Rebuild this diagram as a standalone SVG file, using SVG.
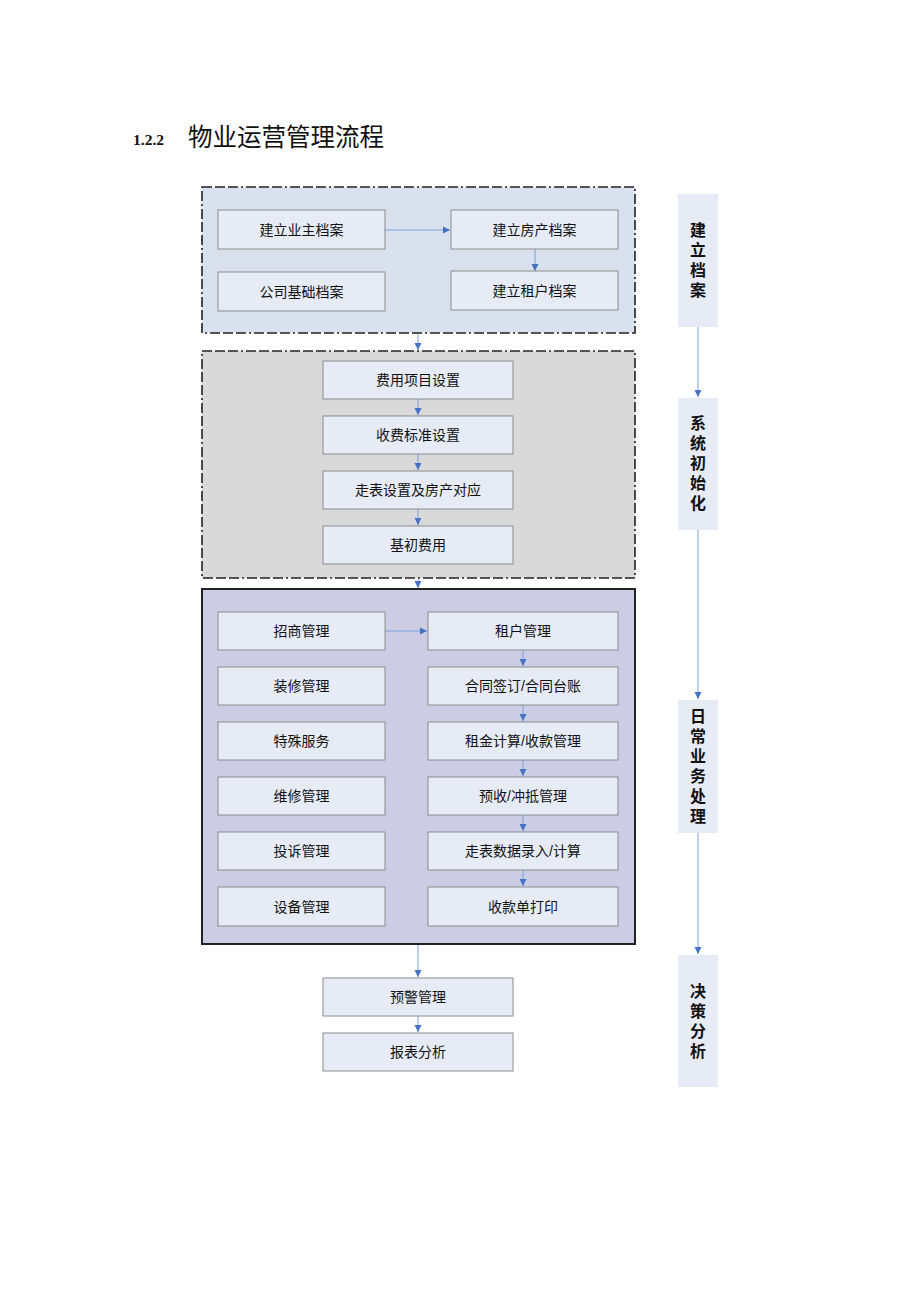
<svg xmlns="http://www.w3.org/2000/svg" width="920" height="1302" viewBox="0 0 920 1302">
<style>
.n{fill:#e6ebf6;stroke:#8c8c8c;stroke-width:1}
.t{font-family:"Liberation Sans","Noto Sans CJK SC",sans-serif;font-size:14px;fill:#111;text-anchor:middle}
.side{fill:#e6ebf6}
.st{font-family:"Noto Sans CJK SC",sans-serif;font-size:16px;font-weight:bold;fill:#111;text-anchor:middle;writing-mode:vertical-rl;letter-spacing:4px}
.c{stroke:#7f9fd6;stroke-width:1;fill:none;marker-end:url(#a)}
.grp{stroke:#222;stroke-width:1.6;stroke-dasharray:10 3 10 3 10 3 2 3}
</style>
<defs>
<marker id="a" markerWidth="8" markerHeight="8" refX="7" refY="4" orient="auto" markerUnits="userSpaceOnUse">
<path d="M0,0.5 L7,4 L0,7.5 z" fill="#4472c4"/>
</marker>
</defs>
<rect width="920" height="1302" fill="#fff"/>
<g id="title">
<text x="133" y="145" font-family="Liberation Serif,serif" font-weight="bold" font-size="15.5" fill="#111">1.2.2</text>
<text x="188" y="146" font-family="Noto Sans CJK SC,sans-serif" font-size="24.5" fill="#111">物业运营管理流程</text>
</g>
<g id="group1"><rect x="202" y="187" width="433" height="146" fill="#d9e1ee" class="grp"/></g>
<g id="group2"><rect x="202" y="351" width="433" height="227" fill="#d9d9d9" class="grp"/></g>
<g id="group3"><rect x="202" y="589" width="433" height="355" fill="#ccccE4" stroke="#222" stroke-width="2"/></g>
<g id="connectors">
<line class="c" x1="385" y1="230" x2="450" y2="230"/>
<line class="c" x1="535" y1="249" x2="535" y2="271"/>
<line class="c" x1="418" y1="334" x2="418" y2="350"/>
<line class="c" x1="418" y1="399" x2="418" y2="415"/>
<line class="c" x1="418" y1="454" x2="418" y2="470"/>
<line class="c" x1="418" y1="509" x2="418" y2="525"/>
<line class="c" x1="418" y1="579" x2="418" y2="588"/>
<line class="c" x1="385" y1="631" x2="427" y2="631"/>
<line class="c" x1="523" y1="650" x2="523" y2="666"/>
<line class="c" x1="523" y1="705" x2="523" y2="721"/>
<line class="c" x1="523" y1="760" x2="523" y2="776"/>
<line class="c" x1="523" y1="815" x2="523" y2="831"/>
<line class="c" x1="523" y1="870" x2="523" y2="886"/>
<line class="c" x1="418" y1="945" x2="418" y2="977"/>
<line class="c" x1="418" y1="1016" x2="418" y2="1032"/>
<line class="c" x1="698" y1="327" x2="698" y2="397"/>
<line class="c" x1="698" y1="530" x2="698" y2="699"/>
<line class="c" x1="698" y1="833" x2="698" y2="954"/>
</g>
<g id="n1"><rect class="n" x="218" y="210" width="167" height="39"/><text class="t" x="301.5" y="234.5">建立业主档案</text></g>
<g id="n2"><rect class="n" x="451" y="210" width="167" height="39"/><text class="t" x="534.5" y="234.5">建立房产档案</text></g>
<g id="n3"><rect class="n" x="218" y="272" width="167" height="39"/><text class="t" x="301.5" y="296.5">公司基础档案</text></g>
<g id="n4"><rect class="n" x="451" y="271" width="167" height="39"/><text class="t" x="534.5" y="295.5">建立租户档案</text></g>
<g id="n5"><rect class="n" x="323" y="361" width="190" height="38"/><text class="t" x="418" y="385">费用项目设置</text></g>
<g id="n6"><rect class="n" x="323" y="416" width="190" height="38"/><text class="t" x="418" y="440">收费标准设置</text></g>
<g id="n7"><rect class="n" x="323" y="471" width="190" height="38"/><text class="t" x="418" y="495">走表设置及房产对应</text></g>
<g id="n8"><rect class="n" x="323" y="526" width="190" height="38"/><text class="t" x="418" y="550">基初费用</text></g>
<g id="n9"><rect class="n" x="218" y="612" width="167" height="38"/><text class="t" x="301.5" y="636">招商管理</text></g>
<g id="n10"><rect class="n" x="218" y="667" width="167" height="38"/><text class="t" x="301.5" y="691">装修管理</text></g>
<g id="n11"><rect class="n" x="218" y="722" width="167" height="38"/><text class="t" x="301.5" y="746">特殊服务</text></g>
<g id="n12"><rect class="n" x="218" y="777" width="167" height="38"/><text class="t" x="301.5" y="801">维修管理</text></g>
<g id="n13"><rect class="n" x="218" y="832" width="167" height="38"/><text class="t" x="301.5" y="856">投诉管理</text></g>
<g id="n14"><rect class="n" x="218" y="887" width="167" height="39"/><text class="t" x="301.5" y="911.5">设备管理</text></g>
<g id="n15"><rect class="n" x="428" y="612" width="190" height="38"/><text class="t" x="523" y="636">租户管理</text></g>
<g id="n16"><rect class="n" x="428" y="667" width="190" height="38"/><text class="t" x="523" y="691">合同签订/合同台账</text></g>
<g id="n17"><rect class="n" x="428" y="722" width="190" height="38"/><text class="t" x="523" y="746">租金计算/收款管理</text></g>
<g id="n18"><rect class="n" x="428" y="777" width="190" height="38"/><text class="t" x="523" y="801">预收/冲抵管理</text></g>
<g id="n19"><rect class="n" x="428" y="832" width="190" height="38"/><text class="t" x="523" y="856">走表数据录入/计算</text></g>
<g id="n20"><rect class="n" x="428" y="887" width="190" height="39"/><text class="t" x="523" y="911.5">收款单打印</text></g>
<g id="n21"><rect class="n" x="323" y="978" width="190" height="38"/><text class="t" x="418" y="1002">预警管理</text></g>
<g id="n22"><rect class="n" x="323" y="1033" width="190" height="38"/><text class="t" x="418" y="1057">报表分析</text></g>
<g id="s1"><rect class="side" x="678" y="194" width="40" height="133"/><text class="st" x="698" y="262">建立档案</text></g>
<g id="s2"><rect class="side" x="678" y="398" width="40" height="132"/><text class="st" x="698" y="465">系统初始化</text></g>
<g id="s3"><rect class="side" x="678" y="700" width="40" height="133"/><text class="st" x="698" y="768">日常业务处理</text></g>
<g id="s4"><rect class="side" x="678" y="955" width="40" height="132"/><text class="st" x="698" y="1023">决策分析</text></g>
</svg>
